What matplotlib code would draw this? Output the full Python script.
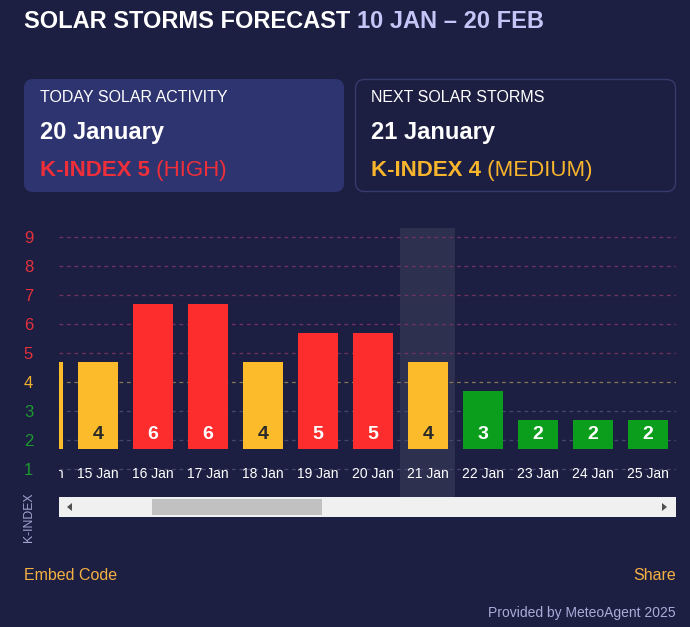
import matplotlib
matplotlib.use("Agg")
import matplotlib.pyplot as plt
from matplotlib.patches import FancyBboxPatch, Rectangle, Polygon

plt.rcParams['font.family'] = ['Liberation Sans', 'DejaVu Sans']

# data
days = ["14 Jan", "15 Jan", "16 Jan", "17 Jan", "18 Jan", "19 Jan",
        "20 Jan", "21 Jan", "22 Jan", "23 Jan", "24 Jan", "25 Jan"]
kindex = [4, 4, 6, 6, 4, 5, 5, 4, 3, 2, 2, 2]
levels = [1, 2, 3, 4, 5, 6, 7, 8, 9]
highlight_day = "21 Jan"

BG = "#1d1f42"
RED = "#fd2c2d"
YELLOW = "#fbbb2b"
GREEN = "#0a9e1c"
BAR_BASE = 1.69   # bars start a bit above level 1 line

def bar_color(v):
    if v >= 5:
        return RED
    if v == 4:
        return YELLOW
    return GREEN

def level_color(v):
    if v >= 5:
        return "#e4313c"
    if v == 4:
        return "#f2b12f"
    return "#1c9a2e"

def grid_color(v):
    if v >= 5:
        return "#74305f"
    if v == 4:
        return "#877653"
    return "#45476f"

fig = plt.figure(figsize=(6.9, 6.27), dpi=100, facecolor=BG)

# background layer in pixel coords
bg = fig.add_axes([0, 0, 1, 1])
bg.set_xlim(0, 690)
bg.set_ylim(627, 0)
bg.axis("off")
bg.set_facecolor(BG)

t1 = bg.text(24, 28, "SOLAR STORMS FORECAST ", color="white", fontsize=17,
             fontweight="bold", va="baseline")
bg.annotate("10 JAN \u2013 20 FEB", xy=(1, 0), xycoords=t1, va="bottom",
            color="#c3c6f7", fontsize=17, fontweight="bold")

# cards
bg.add_patch(FancyBboxPatch((24, 79), 320, 113, boxstyle="round,pad=0,rounding_size=9",
                            fc="#2e3470", ec="none"))
bg.add_patch(FancyBboxPatch((355.5, 79.5), 320, 112, boxstyle="round,pad=0,rounding_size=9",
                            fc=BG, ec="#363a6c", lw=1))

bg.text(40, 98, "TODAY SOLAR ACTIVITY", color="white", fontsize=11.5, va="center")
bg.text(40, 132, "20 January", color="white", fontsize=17, fontweight="bold", va="center")
k1 = bg.text(40, 176, "K-INDEX 5", color="#ee2f3a", fontsize=16, fontweight="bold", va="baseline")
bg.annotate(" (HIGH)", xy=(1, 0), xycoords=k1, va="bottom", color="#ee2f3a", fontsize=16)

bg.text(371, 98, "NEXT SOLAR STORMS", color="white", fontsize=11.5, va="center")
bg.text(371, 132, "21 January", color="white", fontsize=17, fontweight="bold", va="center")
k2 = bg.text(371, 176, "K-INDEX 4", color="#f7b52d", fontsize=16, fontweight="bold", va="baseline")
bg.annotate(" (MEDIUM)", xy=(1, 0), xycoords=k2, va="bottom", color="#f7b52d", fontsize=16)

bg.text(29, 517, "K-INDEX", rotation=90, color="#a3a6d2", fontsize=8.8,
        ha="center", va="center")

bg.text(24, 576, "Embed Code", color="#f5b042", fontsize=11.5, va="center")
bg.text(676, 576, "Share", color="#f5b042", fontsize=11.5, va="center", ha="right")
bg.text(676, 613, "Provided by MeteoAgent 2025", color="#a9abd9", fontsize=10,
        va="center", ha="right")

# chart
ax = fig.add_axes([59 / 690, (627 - 497) / 627, 617 / 690, 269 / 627])
ax.set_facecolor("none")
ax.set_xlim(0.29, 11.51)
ax.set_ylim(0.03, 9.31)
for s in ax.spines.values():
    s.set_visible(False)

xs = list(range(len(days)))
hi = days.index(highlight_day)
ax.axvspan(hi - 0.5, hi + 0.5, color="#ffffff", alpha=0.08, lw=0, zorder=0.5)

for lv in levels:
    ax.axhline(lv, color=grid_color(lv), lw=0.9, ls=(0, (3, 3)), zorder=1)

heights = [v - BAR_BASE + 0.69 for v in kindex]
bars = ax.bar(xs, heights, bottom=BAR_BASE, width=0.727,
              color=[bar_color(v) for v in kindex], zorder=2)

for x, v in zip(xs, kindex):
    ax.text(x, 2.17, str(v), ha="center", va="center", fontsize=14, fontweight="bold",
            color="#2a2a2a" if v == 4 else "white", zorder=3, clip_on=True)
    ax.text(x, 0.84, days[x], ha="center", va="center", fontsize=10,
            color="white", zorder=3, clip_on=True)

ax.set_xticks([])
ax.set_yticks(levels)
ax.set_yticklabels([str(v) for v in levels], fontsize=12)
for lab, lv in zip(ax.get_yticklabels(), levels):
    lab.set_color(level_color(lv))
    lab.set_horizontalalignment("center")
ax.tick_params(axis="y", length=0, pad=22)

# scrollbar
sb = fig.add_axes([59 / 690, (627 - 517) / 627, 617 / 690, 20 / 627])
sb.set_xlim(59, 676)
sb.set_ylim(517, 497)
sb.axis("off")
sb.add_patch(Rectangle((59, 497), 617, 20, fc="#f0f0f0", ec="none"))
sb.add_patch(Rectangle((152, 499), 170, 16, fc="#c1c1c1", ec="none"))
sb.add_patch(Polygon([(67, 507), (72, 503), (72, 511)], closed=True, fc="#505050", ec="none"))
sb.add_patch(Polygon([(667, 507), (662, 503), (662, 511)], closed=True, fc="#505050", ec="none"))

fig.savefig("out.png", dpi=100, facecolor=BG)
